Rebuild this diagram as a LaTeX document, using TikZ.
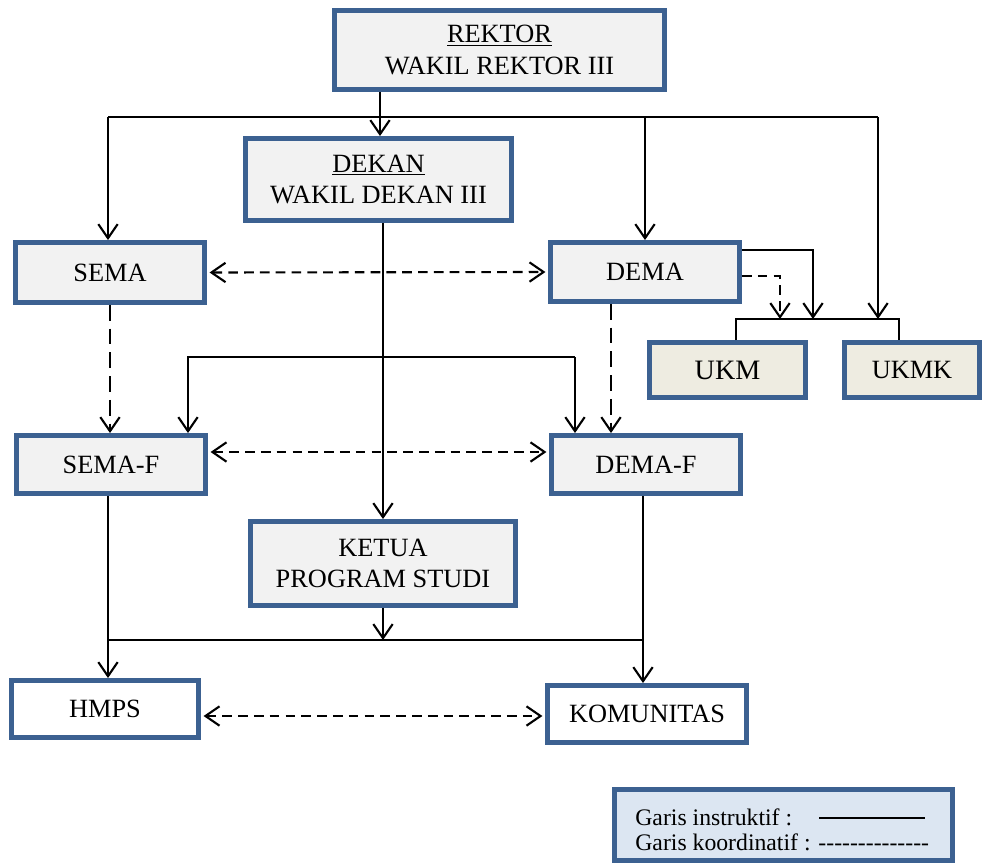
\documentclass[tikz,border=0pt]{standalone}
\usepackage{fontspec}
\setmainfont{Liberation Serif}
\usetikzlibrary{arrows.meta}

\definecolor{boxblue}{HTML}{3C6191}
\definecolor{boxgrey}{HTML}{F2F2F2}
\definecolor{boxtan}{HTML}{EEECE1}
\definecolor{legblue}{HTML}{DCE6F2}

\tikzset{
  unit/.style={draw=boxblue, line width=2.8pt, fill=boxgrey, align=center,
    inner sep=0pt, font=\fontsize{15}{18}\selectfont},
  instr/.style={line width=1.2pt, -{Straight Barb[length=8pt,width=11pt]}},
  koord/.style={instr, dash pattern=on 5.5pt off 3.5pt},
  koordlong/.style={instr, dash pattern=on 9pt off 4.5pt},
  koordboth/.style={koord, {Straight Barb[length=8pt,width=11pt]}-{Straight Barb[length=8pt,width=11pt]},
    shorten <=1.5pt, shorten >=1.5pt},
}

\begin{document}
\begin{tikzpicture}[x=0.02cm, y=-0.02cm]

    \useasboundingbox (0,0) rectangle (983,865);

    % units
    \node[unit, minimum width=6.6cm, minimum height=1.58cm] (rektor) at (499.5,50) {\underline{REKTOR}\\WAKIL REKTOR III};
    \node[unit, minimum width=5.32cm, minimum height=1.64cm] (dekan) at (378.5,179.5) {\underline{DEKAN}\\WAKIL DEKAN III};
    \node[unit, minimum width=3.78cm, minimum height=1.2cm] (sema) at (110,272.5) {SEMA};
    \node[unit, minimum width=3.78cm, minimum height=1.18cm] (dema) at (645,272) {DEMA};
    \node[unit, fill=boxtan, minimum width=3.12cm, minimum height=1.1cm, font=\fontsize{16}{19}\selectfont] (ukm) at (727.5,370) {UKM};
    \node[unit, fill=boxtan, minimum width=2.7cm, minimum height=1.1cm] (ukmk) at (912,370) {UKMK};
    \node[unit, minimum width=3.78cm, minimum height=1.16cm] (semaf) at (111,464.5) {SEMA-F};
    \node[unit, minimum width=3.78cm, minimum height=1.16cm] (demaf) at (646,464.5) {DEMA-F};
    \node[unit, minimum width=5.3cm, minimum height=1.68cm] (ketua) at (383,563.5) {KETUA\\PROGRAM STUDI};
    \node[unit, fill=white, minimum width=3.74cm, minimum height=1.14cm] (hmps) at (105,709) {HMPS};
    \node[unit, fill=white, minimum width=3.98cm, minimum height=1.14cm] (komunitas) at (647,714) {KOMUNITAS};

    % top bus
    \coordinate (busL) at (108,117);
    \coordinate (busR) at (878,117);
    \coordinate (ukmbarL) at (736,319);
    \coordinate (ukmbarR) at (899,319);
    \coordinate (ukmin) at (813,319);
    \coordinate (ukmdash) at (780,319);

    \draw[instr] ([xshift=0.03cm]rektor.south -| dekan.north) -- ([xshift=0.03cm]dekan.north);
    \draw[line width=1.2pt] (busL) -- (busR);
    \draw[instr] (busL) -- (busL |- sema.north);
    \draw[instr] (dema.north |- busL) -- (dema.north);
    \draw[instr] (busR) -- (busR |- ukmbarL);

    \draw[line width=1.2pt] (ukm.north -| ukmbarL) -- (ukmbarL) -- (ukmbarR) -- (ukmbarR |- ukmk.north);
    \draw[instr] ([yshift=0.44cm]dema.east) -| (ukmin);
    \draw[koord] ([yshift=-0.08cm]dema.east) -| (ukmdash);

    % faculty level
    \coordinate (midL) at (188,357);
    \coordinate (midR) at (575,357);

    \draw[koordboth] (sema.east) -- (dema.west);
    \draw[koordlong] (sema.south) -- (sema.south |- semaf.north);
    \draw[koordlong] ([xshift=-0.68cm]dema.south) -- ([xshift=-0.68cm]dema.south |- demaf.north);
    \draw[instr] (midR) -- (midL) -- (midL |- semaf.north);
    \draw[instr] (midR) -- (midR |- demaf.north);
    \draw[instr] (ketua.north |- dekan.south) -- (ketua.north);
    \draw[koordboth] ([yshift=0.25cm]semaf.east) -- ([yshift=0.25cm]semaf.east -| demaf.west);

    % study program level
    \coordinate (lowL) at (108,640);
    \coordinate (lowR) at (643,640);

    \draw[instr] (semaf.south -| lowL) -- (lowL |- hmps.north);
    \draw[line width=1.2pt] (lowL) -- (lowR);
    \draw[instr] (demaf.south -| lowR) -- (lowR |- komunitas.north);
    \draw[instr] (ketua.south) -- (ketua.south |- lowL);
    \draw[koordboth] ([yshift=-0.14cm]hmps.east) -- ([yshift=-0.14cm]hmps.east -| komunitas.west);

    % legend
    \node[unit, fill=legblue, minimum width=6.76cm, minimum height=1.42cm] (legend) at (783.5,825) {};
    \node[anchor=west, inner sep=0pt, font=\fontsize{13.5}{16}\selectfont] (legA) at (635,817) {Garis instruktif :};
    \node[anchor=west, inner sep=0pt, font=\fontsize{13.5}{16}\selectfont] (legB) at (635,842) {Garis koordinatif : -{}-{}-{}-{}-{}-{}-{}-{}-{}-{}-{}-{}-{}-};
    \coordinate (legS) at (819,818);
    \coordinate (legE) at (925,818);
    \draw[line width=1.3pt] (legS) -- (legE);

\end{tikzpicture}
\end{document}
